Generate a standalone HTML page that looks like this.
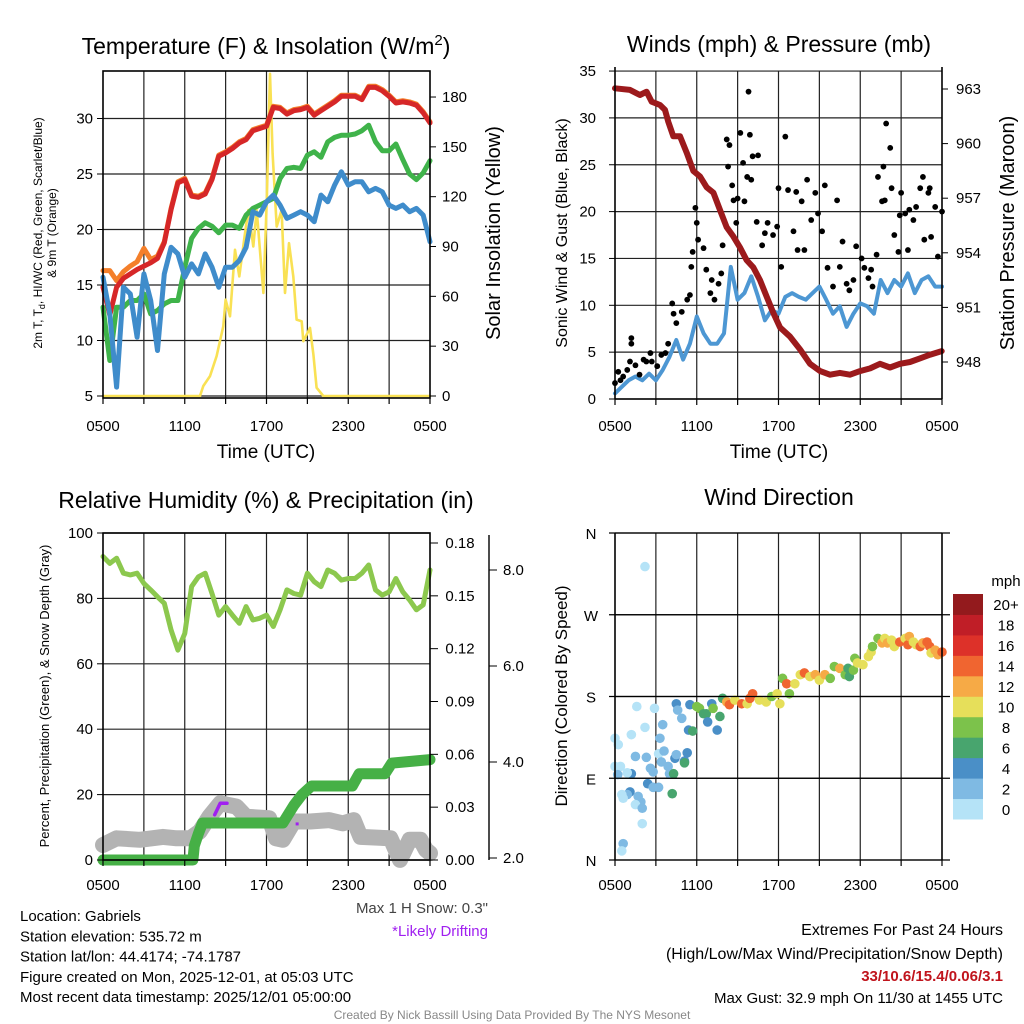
<!DOCTYPE html>
<html><head><meta charset="utf-8"><style>
body{margin:0;background:#fff;}
svg{display:block;font-family:"Liberation Sans",Arial,sans-serif;}
</style></head><body>
<svg id="root" width="1024" height="1024" viewBox="0 0 1024 1024" xmlns="http://www.w3.org/2000/svg"></svg>
<script>
// ---------- Panel 1 data (half-hour steps from 0500 UTC) ----------
const tempRed=[14.8,12.3,14.8,15.6,16.0,16.4,16.7,17.0,17.4,18.8,21.8,24.2,24.5,23.0,22.9,23.2,24.5,26.6,26.9,27.3,27.8,28.1,28.9,29.1,29.3,31.0,30.9,30.4,30.7,30.8,31.0,30.3,30.7,31.1,31.5,32.0,32.0,32.0,31.7,32.8,32.8,32.5,32.0,31.4,31.5,31.4,31.2,30.5,29.6];
const tempOrange=[16.3,16.3,15.4,16.2,16.7,17.1,18.3,17.3,17.6,18.9,21.9,24.3,24.6,23.1,23.0,23.3,24.6,26.7,27.0,27.4,27.9,28.2,29.0,29.2,29.4,31.1,31.0,30.5,30.8,30.9,31.1,30.4,30.8,31.2,31.6,32.1,32.1,32.1,31.8,32.9,32.9,32.6,32.1,31.5,31.6,31.5,31.3,30.6,29.7];
const tempGreen=[13.0,8.2,13.0,13.0,13.6,13.6,14.2,12.4,12.7,13.3,13.6,13.6,16.6,19.2,20.1,20.6,20.3,19.7,20.4,20.4,20.1,21.3,21.9,22.2,22.5,22.8,24.6,25.5,25.6,25.5,26.7,27.0,26.5,27.9,28.3,28.5,28.5,28.6,28.9,29.4,27.9,27.1,27.1,27.7,26.3,25.0,24.5,25.1,26.2];
const tempBlue=[15.7,12.4,5.8,14.8,14.2,10.3,16.0,13.6,9.1,16.0,18.4,17.8,15.7,16.9,16.0,17.8,16.6,14.8,16.6,16.6,17.2,18.4,21.6,21.3,22.5,23.1,22.2,21.0,21.3,21.6,21.3,20.7,23.1,22.5,24.0,25.2,24.0,24.3,24.3,23.4,23.7,23.4,22.2,21.9,22.2,21.6,21.9,21.3,18.9];
const solarHours=[0,7.12,7.36,7.85,8.34,8.83,9.0,9.32,9.69,10.0,10.42,10.67,11.03,11.28,11.77,12.02,12.26,12.45,12.75,13.11,13.36,13.65,13.97,14.21,14.58,14.7,15.19,15.44,15.68,16.17,24];
const solarValues=[0,0,6,12,24,42,58,48,88,72,98,112,90,112,62,118,194,146,102,112,62,92,72,46,45,33,41,25,5,0,0];
const tempTicks=[5,10,15,20,25,30];
const solarTicks=[0,30,60,90,120,150,180];
const timeLabels=["0500","1100","1700","2300","0500"];
// ---------- Panel 2 data ----------
const windHalfHour=[0.6,1.3,2.0,2.4,2.0,2.7,2.0,3.1,4.5,6.3,4.2,5.9,8.8,7.0,5.9,5.9,7.0,14.1,10.6,11.3,13.1,10.9,8.4,9.5,9.1,10.9,11.3,10.9,10.6,11.3,12.0,10.6,9.1,9.9,7.7,9.1,10.2,9.9,9.1,12.7,11.3,12.7,12.0,13.4,11.3,12.7,13.1,12.0,12.0];
const gustHours=[0.0,0.24,0.4,0.6,0.9,1.1,1.2,1.2,1.5,1.8,2.1,2.3,2.6,2.7,3.1,3.4,3.7,3.9,4.2,4.3,4.5,4.9,5.3,5.5,5.6,5.7,5.9,6.0,6.1,6.5,6.7,7.0,7.1,7.3,7.6,7.8,7.9,8.2,8.3,8.4,8.6,8.7,8.9,9.0,9.2,9.4,9.5,9.7,9.8,9.9,10.0,10.1,10.4,10.5,10.8,11.0,11.2,11.6,11.9,12.0,12.2,12.5,12.7,13.1,13.3,13.4,13.7,13.9,14.1,14.4,14.7,14.9,15.2,15.4,15.6,16.0,16.3,16.5,16.7,17.0,17.2,17.5,17.7,18.1,18.3,18.6,18.8,18.9,19.2,19.3,19.6,19.7,19.8,19.9,20.2,20.3,20.5,20.8,20.9,21.0,21.3,21.5,21.6,21.9,22.1,22.4,22.6,22.7,23.0,23.1,23.2,23.5,23.7,24.0];
const gustValues=[1.7,2.9,2.0,2.4,3.1,4.0,5.9,6.5,3.6,2.6,4.2,4.0,4.9,4.0,3.5,4.7,4.9,5.9,10.2,9.1,8.1,9.3,10.6,11.1,14.1,15.7,20.4,18.8,17.0,16.1,13.8,11.3,12.7,10.6,12.3,13.4,16.4,27.7,24.8,27.1,22.8,21.2,18.8,21.4,28.4,25.2,21.1,23.7,32.8,28.2,23.4,25.9,18.9,26.0,16.4,17.7,18.8,17.5,18.4,22.5,14.1,28.0,22.3,17.9,22.1,15.9,21.1,15.9,23.4,19.1,22.0,19.8,17.9,22.8,14.0,12.0,21.2,14.1,16.8,12.3,11.6,12.7,16.3,15.0,14.0,12.9,13.8,12.0,15.4,23.7,21.1,24.8,21.2,29.4,26.8,22.5,17.5,15.7,19.6,22.0,19.8,15.9,20.2,19.1,20.5,22.5,23.7,17.0,22.0,22.5,17.3,20.5,15.2,20.0];
const presHours=[0,1.1,1.83,2.32,2.69,3.3,3.67,3.91,4.28,4.77,5.26,5.75,6.24,6.73,7.22,7.71,8.2,8.68,9.17,9.66,10.15,10.64,11.13,11.62,12.11,12.84,13.58,14.31,15.05,15.78,16.51,17.25,17.98,18.72,19.45,20.18,20.92,21.65,22.38,23.12,23.98];
const presValues=[963.04,962.95,962.67,962.85,962.3,962.12,961.85,961.2,960.4,960.4,959.5,958.5,958.2,957.6,957.3,956.35,955.4,954.9,954.3,953.6,953.2,952.5,951.6,950.7,949.9,949.4,948.7,947.9,947.5,947.3,947.4,947.3,947.5,947.65,947.9,947.7,947.9,948.0,948.2,948.4,948.6];
const windTicks=[0,5,10,15,20,25,30,35];
const presTicks=[948,951,954,957,960,963];
// ---------- Panel 3 data ----------
const rhHalfHour=[92.8,90.7,92.3,87.7,87.2,87.7,84.6,82.6,80.5,78.5,70.3,64.2,69.3,83.6,86.6,87.7,81.5,74.9,77.5,74.9,72.4,77.5,73.4,73.9,74.9,71.4,76.5,82.6,81.5,81.0,87.7,85.1,83.6,88.7,87.7,85.6,86.1,86.1,87.7,90.2,82.6,81.0,82.0,86.1,82.0,79.5,76.5,78.0,88.7];
const precipHours=[0,6.6,6.7,7.0,7.3,13.2,13.6,14.0,14.6,15.3,18.3,18.8,20.7,21.2,24];
const precipValues=[0,0,0.008,0.015,0.021,0.021,0.026,0.031,0.037,0.042,0.042,0.049,0.049,0.055,0.057];
const snowHours=[0,1.0,2.7,4.4,5.4,6.4,7.1,7.8,8.6,9.8,10.5,12.2,12.7,13.2,14.0,15.2,16.6,17.6,18.4,18.9,21.1,21.8,22.5,23.3,23.7,24];
const snowValues=[2.27,2.41,2.38,2.44,2.41,2.41,2.55,2.86,3.14,3.07,2.86,2.83,2.41,2.38,2.76,2.76,2.79,2.72,2.79,2.44,2.41,1.96,2.38,2.38,2.17,2.1];
const driftHours=[8.2,8.6,9.1];
const driftValues=[2.9,3.14,3.14];
const rhTicks=[0,20,40,60,80,100];
const precipTicks=["0.00","0.03","0.06","0.09","0.12","0.15","0.18"];
const snowTicks=["2.0","4.0","6.0","8.0"];
// ---------- Panel 4 data ----------
const dirHours=[2.2,0,0.24,1.2,1.6,2.9,2.2,3.3,3.5,1.5,2.3,0,0.4,0.2,1.2,0.9,2.6,2.8,3.2,3.6,3.4,3.9,4.0,4.4,4.5,5.3,5.1,5.1,4.3,4.2,2.4,2.8,3.2,1.1,0.9,0.5,0.6,1.7,1.9,1.5,2.0,2.0,0.6,0.5,4.5,4.6,4.9,5.4,5.7,5.5,6.0,6.2,6.5,6.7,6.8,7.1,7.2,7.5,7.7,7.9,8.2,8.4,8.8,9.3,9.7,9.9,10.1,10.6,11.1,11.5,11.9,12.1,12.3,12.6,12.8,13.2,13.6,13.9,14.3,14.7,15.0,15.4,15.8,16.1,16.5,16.9,17.1,17.2,17.5,17.6,17.8,18.2,18.6,18.8,18.9,19.3,19.6,19.8,20.0,20.3,20.5,20.9,21.3,21.5,21.6,21.9,22.1,22.4,22.6,22.9,23.1,23.2,23.5,23.7,24.0];
const dirDegrees=[323,134,127,138,169,167,146,134,149,114,113,103,103,94,95,96,101,97,117,120,108,103,95,112,116,118,109,107,95,73,84,80,80,75,72,72,68,70,64,61,57,40,18,10,172,165,156,143,142,171,169,167,161,161,152,172,167,143,158,178,174,171,176,172,172,178,183,176,174,180,183,172,200,194,183,194,204,206,202,204,198,204,200,213,211,204,211,202,209,222,217,215,224,229,235,244,239,244,239,242,235,240,244,237,246,240,237,235,239,240,235,228,231,226,229];
const dirSpeeds=[0,1,1,1,0,0,0,3,3,3,3,1,1,3,5,1,3,3,1,3,3,3,3,5,3,5,5,7,7,7,5,3,3,5,3,1,1,3,3,1,3,1,3,1,5,3,3,5,7,5,9,9,7,7,5,5,9,5,7,7,13,15,11,15,11,15,15,11,11,9,11,11,9,15,9,11,11,15,11,13,11,13,9,9,13,9,7,7,9,9,11,11,11,11,9,9,13,11,13,11,11,15,11,15,13,11,11,15,13,15,15,11,13,13,15];
const speedBinLabels=["0","2","4","6","8","10","12","14","16","18","20+"];
const speedBinColors=["#b5e3f7","#7fbae3","#4a8fc7","#48a56e","#7cc24b","#e6df5a","#f6aa46","#f06530","#dd3129","#c01e27","#931a1d"];
const dirLabels=["N","E","S","W","N"];

// ---------- drawing ----------
const NS="http://www.w3.org/2000/svg";
const root=document.getElementById('root');
function mk(tag,attrs,parent){const e=document.createElementNS(NS,tag);for(const k in attrs)e.setAttribute(k,attrs[k]);(parent||root).appendChild(e);return e;}
function txt(s,x,y,size,anchor,parent,extra){const t=mk('text',Object.assign({x:x,y:y,'font-size':size,'text-anchor':anchor||'middle',fill:'#000'},extra||{}),parent);t.textContent=s;return t;}
function poly(pts,color,w,parent){return mk('polyline',{points:pts.map(p=>p[0].toFixed(1)+','+p[1].toFixed(1)).join(' '),fill:'none',stroke:color,'stroke-width':w,'stroke-linejoin':'round','stroke-linecap':'round'},parent);}
function grp(){return mk('g',{});}

// Panel 1
const p1={L:103,R:430,T:71,B:398};
const x1=h=>p1.L+h*(p1.R-p1.L)/24;
const y1=v=>396-(v-5)*11.1;
const ys1=v=>396-v*1.661;
function frame(p,g,hLines,vCount){
  for(let i=1;i<vCount;i++){const x=p.L+i*(p.R-p.L)/vCount;const l=mk('line',{x1:x,y1:p.T,x2:x,y2:p.B,stroke:'#222','stroke-width':1.2},g);}
  hLines.forEach(y=>{const l=mk('line',{x1:p.L,y1:y,x2:p.R,y2:y,stroke:'#222','stroke-width':1.2},g);});
}
function axesBox(p,g){
  const r=mk('rect',{x:p.L,y:p.T,width:p.R-p.L,height:p.B-p.T,fill:'none',stroke:'#000','stroke-width':1.6},g);
  
}
function xTicks(p,g,y){
  for(let i=0;i<=8;i++){const x=p.L+i*(p.R-p.L)/8;mk('line',{x1:x,y1:p.B,x2:x,y2:p.B+6,stroke:'#000','stroke-width':1.2},g);}
  timeLabels.forEach((s,i)=>{const t=txt(s,p.L+i*(p.R-p.L)/4,y,15,'middle',g);});
}
let g=grp();
frame(p1,g,tempTicks.map(y1),8);
poly(solarHours.map((h,i)=>[x1(h),ys1(solarValues[i])]),'#f9e154',2.6,g);
poly(tempOrange.map((v,i)=>[x1(i/2),y1(v)]),'#f47f2a',5,g);
poly(tempRed.map((v,i)=>[x1(i/2),y1(v)]),'#d62728',5,g);
poly(tempGreen.map((v,i)=>[x1(i/2),y1(v)]),'#3fb34a',5,g);
poly(tempBlue.map((v,i)=>[x1(i/2),y1(v)]),'#3f8ccb',5,g);
axesBox(p1,g);
tempTicks.forEach(v=>{mk('line',{x1:p1.L-6,y1:y1(v),x2:p1.L,y2:y1(v),stroke:'#000'},g);const tt=txt(String(v),p1.L-10,y1(v)+5,15,'end',g);});
solarTicks.forEach(v=>{mk('line',{x1:p1.R,y1:ys1(v),x2:p1.R+6,y2:ys1(v),stroke:'#000'},g);const tt=txt(String(v),p1.R+12,ys1(v)+5,15,'start',g);});
xTicks(p1,g,431);
let t=txt('Time (UTC)',266,458,19,'middle',g);
t=txt('',266,54,23,'middle',g);t.innerHTML='Temperature (F) &amp; Insolation (W/m<tspan dy="-9" font-size="15">2</tspan><tspan dy="9">)</tspan>';
t=txt('Solar Insolation (Yellow)',0,0,20,'middle',g,{transform:'translate(500,233) rotate(-90)'});
t=txt('',0,0,12,'middle',g,{transform:'translate(42,233) rotate(-90)'});t.innerHTML='2m T, T<tspan dy="3" font-size="9">d</tspan><tspan dy="-3">, HI/WC (Red, Green, Scarlet/Blue)</tspan>';
t=txt('& 9m T (Orange)',0,0,12,'middle',g,{transform:'translate(56,233) rotate(-90)'});

// Panel 2
const p2={L:615,R:942,T:71,B:399};
const x2=h=>p2.L+h*(p2.R-p2.L)/24;
const y2=v=>399-v*9.37;
const yp=p=>362-(p-948)*18.2;
g=grp();
frame(p2,g,windTicks.map(y2),8);
poly(windHalfHour.map((v,i)=>[x2(i/2),y2(v)]),'#4d97d3',4,g);
gustValues.forEach((v,i)=>{const c=mk('circle',{cx:x2(gustHours[i]),cy:y2(v),r:2.9,fill:'#000'},g);});
poly(presHours.map((h,i)=>[x2(h),yp(presValues[i])]),'#9c1a1c',6,g);
mk('line',{x1:p2.L,y1:p2.T-4,x2:p2.L,y2:p2.B,stroke:'#000','stroke-width':1.6},g);
mk('line',{x1:p2.R,y1:p2.T-4,x2:p2.R,y2:p2.B,stroke:'#000','stroke-width':1.6},g);
mk('line',{x1:p2.L,y1:p2.B,x2:p2.R,y2:p2.B,stroke:'#000','stroke-width':1.6},g);
windTicks.forEach(v=>{mk('line',{x1:p2.L-6,y1:y2(v),x2:p2.L,y2:y2(v),stroke:'#000'},g);const tt=txt(String(v),p2.L-19,y2(v)+5,15,'end',g);});
presTicks.forEach(v=>{mk('line',{x1:p2.R,y1:yp(v),x2:p2.R+6,y2:yp(v),stroke:'#000'},g);const tt=txt(String(v),p2.R+14,yp(v)+5,15,'start',g);});
xTicks(p2,g,431);
t=txt('Time (UTC)',779,458,19,'middle',g);
t=txt('Winds (mph) & Pressure (mb)',779,52,23,'middle',g);
t=txt('Sonic Wind & Gust (Blue, Black)',0,0,16,'middle',g,{transform:'translate(567,233) rotate(-90)'});
t=txt('Station Pressure (Maroon)',0,0,20,'middle',g,{transform:'translate(1014,233) rotate(-90)'});

// Panel 3
const p3={L:103,R:430,T:533,B:860};
const x3=h=>p3.L+h*(p3.R-p3.L)/24;
const y3=v=>860-v*3.27;
const ypr=v=>860-v/0.18*317;
const ysn=v=>858-(v-2)*48;
g=grp();
frame(p3,g,rhTicks.map(y3),8);
poly(rhHalfHour.map((v,i)=>[x3(i/2),y3(v)]),'#8cc84e',5,g);
poly(snowHours.map((h,i)=>[x3(h),ysn(snowValues[i])]),'#b3b3b3',16,g);
poly(driftHours.map((h,i)=>[x3(h),ysn(driftValues[i])]),'#a020f0',3.5,g);
mk('rect',{x:x3(14.25)-1.5,y:ysn(2.71)-1.5,width:3,height:3,fill:'#a020f0'},g);
poly(precipHours.map((h,i)=>[x3(h),ypr(precipValues[i])]),'#46b046',11,g);
axesBox(p3,g);
rhTicks.forEach(v=>{mk('line',{x1:p3.L-6,y1:y3(v),x2:p3.L,y2:y3(v),stroke:'#000'},g);const tt=txt(String(v),p3.L-10,y3(v)+5,15,'end',g);});
precipTicks.forEach(s=>{const v=parseFloat(s);mk('line',{x1:p3.R,y1:ypr(v),x2:p3.R+8,y2:ypr(v),stroke:'#000'},g);const tt=txt(s,p3.R+30,ypr(v)+5,15,'middle',g);});
mk('line',{x1:489,y1:535,x2:489,y2:860,stroke:'#000','stroke-width':1.4},g);
snowTicks.forEach(s=>{const v=parseFloat(s);mk('line',{x1:489,y1:ysn(v),x2:497,y2:ysn(v),stroke:'#000'},g);const tt=txt(s,503,ysn(v)+5,15,'start',g);});
xTicks(p3,g,890);
t=txt('Relative Humidity (%) & Precipitation (in)',266,508,23,'middle',g);
t=txt('Percent, Precipitation (Green), & Snow Depth (Gray)',0,0,13,'middle',g,{transform:'translate(49,696) rotate(-90)'});
t=txt('Max 1 H Snow: 0.3"',488,913,15,'end',g,{fill:'#444'});
t=txt('*Likely Drifting',488,936,15,'end',g,{fill:'#a020f0'});

// Panel 4
const p4={L:615,R:942,T:533,B:860};
const x4=h=>p4.L+h*(p4.R-p4.L)/24;
const y4=d=>860-d/360*327;
g=grp();
frame(p4,g,[0,90,180,270,360].map(y4),8);
function binOf(s){return Math.min(10,Math.max(0,Math.floor(s/2)));}
dirDegrees.forEach((d,i)=>{const c=mk('circle',{cx:x4(dirHours[i]),cy:y4(d),r:4.8,fill:speedBinColors[binOf(dirSpeeds[i])]},g);});
mk('line',{x1:p4.L,y1:p4.T,x2:p4.L,y2:p4.B,stroke:'#000','stroke-width':1.6},g);
mk('line',{x1:p4.R,y1:p4.T,x2:p4.R,y2:p4.B,stroke:'#000','stroke-width':1.6},g);
[0,90,180,270,360].forEach((d,i)=>{mk('line',{x1:p4.L-6,y1:y4(d),x2:p4.R+8,y2:y4(d),stroke:'#000','stroke-width':1.2},g);const tt=txt(dirLabels[i],591,y4(d)+6,15,'middle',g);});
xTicks(p4,g,890);
t=txt('Wind Direction',779,505,23,'middle',g);
t=txt('Direction (Colored By Speed)',0,0,17,'middle',g,{transform:'translate(567,696) rotate(-90)'});
const cb=grp();
const binH=(819-594)/speedBinColors.length;
speedBinColors.forEach((c,i)=>{const yy=819-(i+1)*binH;const r=mk('rect',{x:953,y:yy,width:30,height:binH+0.5,fill:c},cb);const tt=txt(speedBinLabels[i],1006,yy+binH/2+6,15,'middle',cb);});
t=txt('mph',1006,586,15,'middle',cb);

// Footer text
const info=["Location: Gabriels","Station elevation: 535.72 m","Station lat/lon: 44.4174; -74.1787","Figure created on Mon, 2025-12-01, at 05:03 UTC","Most recent data timestamp: 2025/12/01 05:00:00"];
info.forEach((s,i)=>{const tt=txt(s,20,921+i*20.25,15,'start');});
t=txt('Extremes For Past 24 Hours',1003,935,16,'end');
t=txt('(High/Low/Max Wind/Precipitation/Snow Depth)',1003,959,16,'end');
t=txt('33/10.6/15.4/0.06/3.1',1003,981,15,'end',null,{fill:'#c0141c','font-weight':'bold'});
t=txt('Max Gust: 32.9 mph On 11/30 at 1455 UTC',1003,1003,15,'end');
t=txt('Created By Nick Bassill Using Data Provided By The NYS Mesonet',512,1019,12,'middle',null,{fill:'#888'});
</script>
</body></html>
